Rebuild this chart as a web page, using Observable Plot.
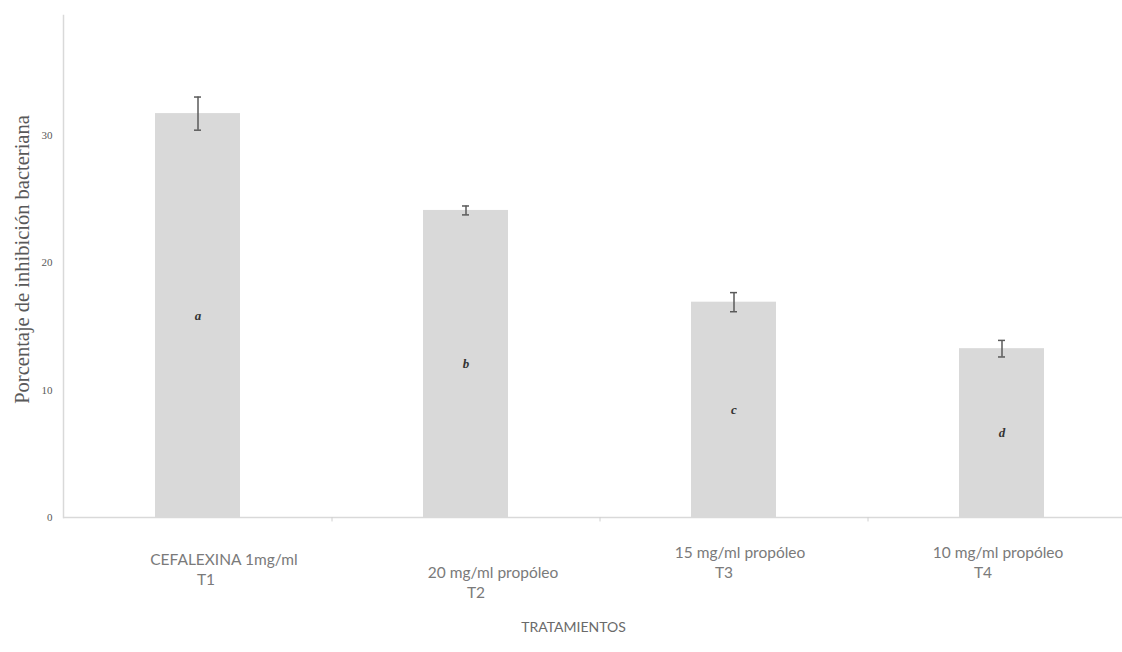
<!DOCTYPE html>
<html>
<head>
<meta charset="utf-8">
<script src="https://cdn.jsdelivr.net/npm/d3@7"></script>
<script src="https://cdn.jsdelivr.net/npm/@observablehq/plot@0.6"></script>
<style>
  html, body { margin: 0; padding: 0; background: #fff; }
</style>
</head>
<body>
<div id="chart"></div>
<script>
const categories = ["T1", "T2", "T3", "T4"];
const labelLine1 = ["CEFALEXINA 1mg/ml", "20 mg/ml propóleo", "15 mg/ml propóleo", "10 mg/ml propóleo"];
const labelLine2 = ["T1", "T2", "T3", "T4"];
const values = [31.7, 24.1, 16.9, 13.25];
const errors = [1.3, 0.35, 0.75, 0.65];
const letters = ["a", "b", "c", "d"];
const yTicks = [0, 10, 20, 30];

const data = categories.map((c, i) => ({
  cat: c, value: values[i], err: errors[i], letter: letters[i],
  line1: labelLine1[i], line2: labelLine2[i]
}));

// layout constants
const W = 1122, H = 652, mL = 63, mT = 15, mB = 135;
const xRange = [63, 1135];
const step = (xRange[1] - xRange[0]) / categories.length;
const padIn = 0.683;
const bw = step * (1 - padIn);
const capW = 7;
const labelPos = [
  {dx1: 26, dy1: 43, dx2: 8, dy2: 63},
  {dx1: 27, dy1: 56, dx2: 10, dy2: 76},
  {dx1: 6, dy1: 36, dx2: -10, dy2: 56},
  {dx1: -4, dy1: 36, dx2: -19, dy2: 56}
];
const labelFont = "Lato, 'Open Sans', sans-serif";
const labelColor = "#7a7a7a";

const labelMarks = [];
data.forEach((d, i) => {
  const p = labelPos[i];
  labelMarks.push(Plot.text([d], {x: "cat", text: "line1", frameAnchor: "bottom", dx: p.dx1, dy: p.dy1,
    lineAnchor: "middle", fontFamily: labelFont, fontSize: 15.5, fill: labelColor}));
  labelMarks.push(Plot.text([d], {x: "cat", text: "line2", frameAnchor: "bottom", dx: p.dx2, dy: p.dy2,
    lineAnchor: "middle", fontFamily: labelFont, fontSize: 15.5, fill: labelColor}));
});

const chart = Plot.plot({
  width: W, height: H,
  marginLeft: mL, marginRight: 0, marginTop: mT, marginBottom: mB,
  style: {background: "#fff"},
  x: {domain: categories, range: xRange, paddingInner: padIn, paddingOuter: padIn / 2, axis: null},
  y: {domain: [0, 39.4], axis: null},
  marks: [
    Plot.barY(data, {x: "cat", y: "value", fill: "#d9d9d9"}),
    Plot.ruleY([0], {stroke: "#d9d9d9", strokeWidth: 1.5}),
    Plot.frame({anchor: "left", stroke: "#d9d9d9", strokeWidth: 1.5}),
    Plot.ruleX(categories.slice(1), {x: d => d, y1: 0, y2: -0.35, dx: -step / 2, stroke: "#d0d0d0"}),
    Plot.ruleX(data, {x: "cat", y1: d => d.value - d.err, y2: d => d.value + d.err, stroke: "#5a5a5a", strokeWidth: 1.5}),
    Plot.tickY(data, {x: "cat", y: d => d.value + d.err, stroke: "#5a5a5a", strokeWidth: 1.5, insetLeft: (bw - capW) / 2, insetRight: (bw - capW) / 2}),
    Plot.tickY(data, {x: "cat", y: d => d.value - d.err, stroke: "#5a5a5a", strokeWidth: 1.5, insetLeft: (bw - capW) / 2, insetRight: (bw - capW) / 2}),
    Plot.text(data, {x: "cat", y: d => d.value / 2, text: "letter", fontStyle: "italic", fontWeight: "bold",
      fontFamily: "'Liberation Serif', serif", fontSize: 13, fill: "#333"}),
    Plot.axisY({ticks: yTicks, tickSize: 0, tickPadding: 11, label: null, fontFamily: "'Liberation Serif', serif", fontSize: 11, fill: "#595959"}),
    Plot.text(["Porcentaje de inhibición bacteriana"], {frameAnchor: "left", textAnchor: "middle", rotate: -90, dx: -41, dy: -7,
      fontFamily: "'Liberation Serif', serif", fontSize: 20.5, fill: "#595959"}),
    ...labelMarks,
    Plot.text(["TRATAMIENTOS"], {frameAnchor: "bottom", dx: -19.5, dy: 110, lineAnchor: "middle",
      fontFamily: labelFont, fontSize: 14, fill: "#6a6a6a"})
  ]
});
document.getElementById("chart").appendChild(chart);
</script>
</body>
</html>
